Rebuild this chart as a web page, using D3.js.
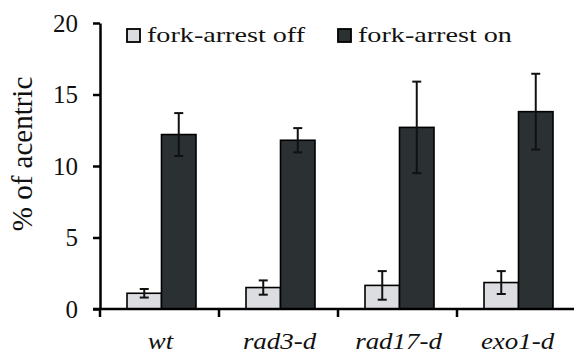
<!DOCTYPE html>
<html>
<head>
<meta charset="utf-8">
<script src="https://cdn.jsdelivr.net/npm/d3@7"></script>
<style>
  body { margin: 0; background: #fff; }
  text { font-family: "Times New Roman"; fill: #111; }
</style>
</head>
<body>
<div id="chart"></div>
<script>
// data
var categories = ["wt", "rad3-d", "rad17-d", "exo1-d"];
var seriesNames = ["fork-arrest off", "fork-arrest on"];
var offValues = [1.1, 1.5, 1.65, 1.85];
var offErrors = [0.3, 0.5, 1.0, 0.8];
var onValues = [12.2, 11.8, 12.7, 13.8];
var onErrors = [1.5, 0.85, 3.2, 2.65];
var yTicks = [0, 5, 10, 15, 20];
var colors = ["#dcdde0", "#2b3133"];

var serif = "'Times New Roman'";
var width = 574, height = 355;
var margin = {top: 23, right: -2, bottom: 46, left: 100};
var innerW = width - margin.left - margin.right,
    innerH = height - margin.top - margin.bottom;

var svg = d3.select("#chart").append("svg")
    .attr("width", width)
    .attr("height", height);

var g = svg.append("g")
    .attr("transform", "translate(" + margin.left + "," + margin.top + ")");

var x = d3.scaleBand()
    .domain(categories)
    .range([0, innerW])
    .padding(0);

var xSub = d3.scaleBand()
    .domain(seriesNames)
    .range([27, 96])
    .padding(0);

var y = d3.scaleLinear()
    .domain([0, 20])
    .range([innerH, 0]);

// build rows
var rows = [];
categories.forEach(function(c, i) {
    rows.push({cat: c, series: seriesNames[0], value: offValues[i], err: offErrors[i], color: colors[0]});
    rows.push({cat: c, series: seriesNames[1], value: onValues[i], err: onErrors[i], color: colors[1]});
});

// bars
g.selectAll("rect.bar").data(rows)
    .enter().append("rect")
    .attr("class", "bar")
    .attr("x", function(d) { return x(d.cat) + xSub(d.series); })
    .attr("y", function(d) { return y(d.value); })
    .attr("width", xSub.bandwidth())
    .attr("height", function(d) { return y(0) - y(d.value); })
    .style("fill", function(d) { return d.color; })
    .style("stroke", "#000")
    .style("stroke-width", 1.6);

// error bars
var capW = 4.5;
var eb = g.selectAll("g.err").data(rows).enter().append("g").attr("class", "err")
    .attr("transform", function(d) { return "translate(" + (x(d.cat) + xSub(d.series) + xSub.bandwidth() / 2) + ",0)"; });
eb.append("line")
    .attr("y1", function(d) { return y(d.value + d.err); })
    .attr("y2", function(d) { return y(d.value - d.err); });
eb.append("line")
    .attr("x1", -capW).attr("x2", capW)
    .attr("y1", function(d) { return y(d.value + d.err); })
    .attr("y2", function(d) { return y(d.value + d.err); });
eb.append("line")
    .attr("x1", -capW).attr("x2", capW)
    .attr("y1", function(d) { return y(d.value - d.err); })
    .attr("y2", function(d) { return y(d.value - d.err); });
eb.selectAll("line").style("stroke", "#111").style("stroke-width", 2);

// y axis
var yAxis = d3.axisLeft(y).tickValues(yTicks).tickSize(7).tickPadding(15).tickSizeOuter(0);
var yG = g.append("g").call(yAxis);
yG.select(".domain").style("stroke", "#000").style("stroke-width", 2.5);
yG.selectAll(".tick line").style("stroke", "#000").style("stroke-width", 2.5);
yG.selectAll("text")
    .style("font-family", serif)
    .style("font-size", "25px")
    .style("fill", "#111");

// x axis line + boundary ticks
g.append("line")
    .attr("x1", -7).attr("x2", innerW)
    .attr("y1", y(0)).attr("y2", y(0))
    .style("stroke", "#000").style("stroke-width", 2.5);
g.selectAll("line.xtick").data(categories)
    .enter().append("line")
    .attr("class", "xtick")
    .attr("x1", function(d) { return x(d); })
    .attr("x2", function(d) { return x(d); })
    .attr("y1", y(0)).attr("y2", y(0) + 8)
    .style("stroke", "#000").style("stroke-width", 2.5);

// category labels
var xAxis = d3.axisBottom(x).tickSize(0).tickPadding(0);
var xG = g.append("g").attr("transform", "translate(1," + innerH + ")").call(xAxis);
xG.select(".domain").remove();
xG.selectAll("text")
    .attr("y", 0)
    .attr("dy", 0)
    .attr("transform", "translate(0,40) scale(1.17,1)")
    .style("font-family", serif)
    .style("font-style", "italic")
    .style("font-size", "23px")
    .style("fill", "#111");

// y label
svg.append("text")
    .attr("transform", "translate(32,154) rotate(-90)")
    .attr("text-anchor", "middle")
    .style("font-size", "29px")
    .text("% of acentric");

// legend
var legX = [127, 338];
var leg = svg.selectAll("g.leg").data(seriesNames).enter().append("g")
    .attr("class", "leg")
    .attr("transform", function(d, i) { return "translate(" + legX[i] + ",0)"; });
leg.append("rect")
    .attr("x", 0).attr("y", 29)
    .attr("width", 13).attr("height", 13)
    .style("fill", function(d, i) { return colors[i]; })
    .style("stroke", "#000")
    .style("stroke-width", 1.8);
leg.append("text")
    .attr("transform", "translate(20,42) scale(1.28,1)")
    .style("font-size", "22px")
    .text(function(d) { return d; });
</script>
</body>
</html>
